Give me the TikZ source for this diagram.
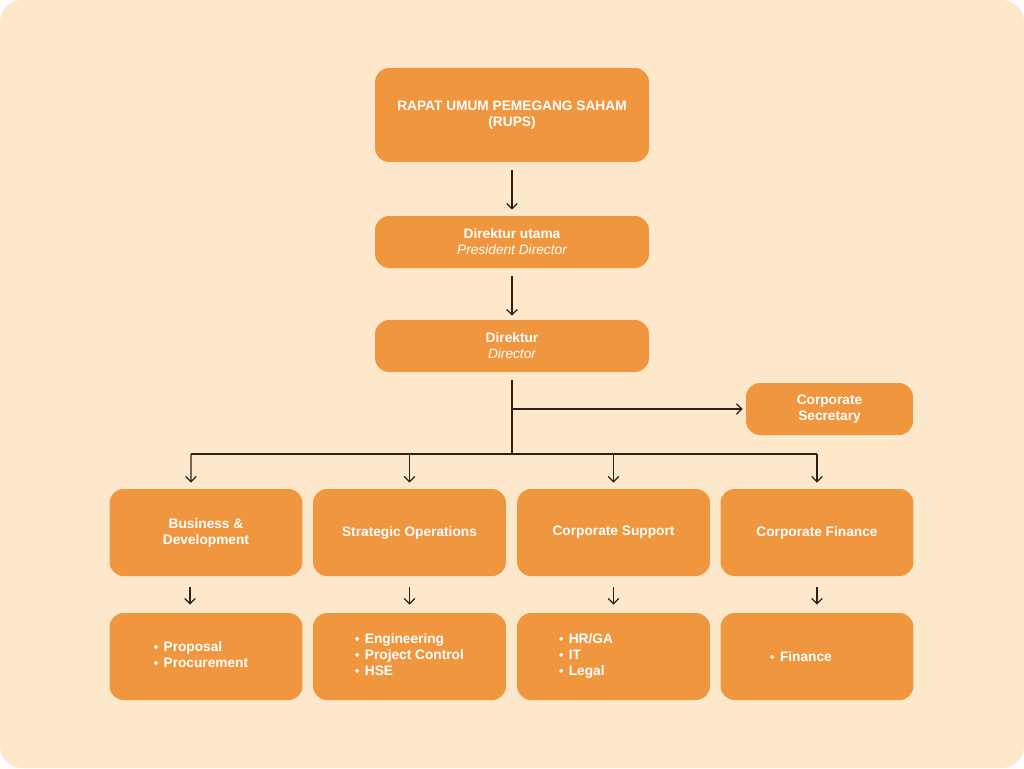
\documentclass[tikz,border=0pt]{standalone}
\usepackage{fontspec}
\setmainfont{Liberation Sans}
\usepackage{tikz}
\usetikzlibrary{positioning,arrows.meta,calc}
\definecolor{peach}{HTML}{FDE8CC}
\definecolor{boxorange}{HTML}{F0963F}
\definecolor{linedark}{HTML}{2B2118}
\newcommand{\itm}{\raisebox{0.05ex}{\fontsize{7}{5}\selectfont•}\hspace{0.4em}}
\tikzset{
    x=0.02cm,
    y=-0.02cm,
    unit/.style = {
        shape=rectangle,
        fill=boxorange,
        rounded corners=0.28cm,
        text=white,
        align=center,
        inner sep=0pt,
        font=\fontsize{7.8}{9.1}\selectfont\bfseries
    },
    top/.style = {
        unit,
        minimum width=5.48cm,
        minimum height=1.04cm
    },
    dept/.style = {
        unit,
        minimum width=3.86cm,
        minimum height=1.74cm
    },
    link/.style = {
        draw=linedark,
        line width=0.75pt
    },
    >={Straight Barb[length=3pt,width=6pt]},
}

\begin{document}
\begin{tikzpicture}
            \useasboundingbox (0,0) rectangle (1024,768);
            \fill[peach, rounded corners=0.44cm] (0,0) rectangle (1024,768);

            \node[top, minimum height=1.88cm] (rups) at (512,115) {RAPAT UMUM PEMEGANG SAHAM\\(RUPS)};
            \node[top] (dirut) at (512,242) {Direktur utama\\{\mdseries\itshape President Director}};
            \node[top] (dir) at (512,346) {Direktur\\{\mdseries\itshape Director}};
            \node[unit, minimum width=3.34cm, minimum height=1.04cm] (sec) at (829.5,409) {Corporate\\Secretary};

            \node[dept] (bd) at (206,532.5) {Business \&\\Development};
            \node[dept] (so) at (409.5,532.5) {Strategic Operations};
            \node[dept] (cs) at (613.5,532.5) {Corporate Support};
            \node[dept] (cf) at (817,532.5) {Corporate Finance};

            \node[dept] (bdlist) at (206,656.5) {\hspace*{-0.2cm}\begin{tabular}{@{}l@{}}\itm Proposal\\\itm Procurement\end{tabular}};
            \node[dept] (solist) at (409.5,656.5) {\begin{tabular}{@{}l@{}}\itm Engineering\\\itm Project Control\\\itm HSE\end{tabular}};
            \node[dept] (cslist) at (613.5,656.5) {\hspace*{-1.1cm}\begin{tabular}{@{}l@{}}\itm HR/GA\\\itm IT\\\itm Legal\end{tabular}};
            \node[dept] (cflist) at (817,656.5) {\hspace*{-0.64cm}\itm Finance};

            \coordinate (branch) at (512,409);
            \coordinate (bus) at (512,454);
            \coordinate (busleft) at (191,454);
            \coordinate (busright) at (817,454);

            \path[link, ->, shorten <=0.16cm, shorten >=0.12cm] (rups) -- (dirut);
            \path[link, ->, shorten <=0.16cm, shorten >=0.08cm] (dirut) -- (dir);
            \path[link, shorten <=0.16cm] (dir) -- (bus);
            \path[link, ->, shorten >=0.06cm] (branch) -- (sec);
            \path[link] (busleft) -- (busright);
            \path[link, ->, shorten >=0.12cm] (busleft) -- ([xshift=-0.3cm]bd.north);
            \path[link, ->, shorten >=0.12cm] (bus) -| (so.north);
            \path[link, ->, shorten >=0.12cm] (bus) -| (cs.north);
            \path[link, ->, shorten >=0.12cm] (busright) -- (cf.north);

            \path[link, ->, shorten <=0.22cm, shorten >=0.16cm] ([xshift=-0.32cm]bd.south) -- ([xshift=-0.32cm]bdlist.north);
            \path[link, ->, shorten <=0.22cm, shorten >=0.16cm] (so) -- (solist);
            \path[link, ->, shorten <=0.22cm, shorten >=0.16cm] (cs) -- (cslist);
            \path[link, ->, shorten <=0.22cm, shorten >=0.16cm] (cf) -- (cflist);
        \end{tikzpicture}
\end{document}
